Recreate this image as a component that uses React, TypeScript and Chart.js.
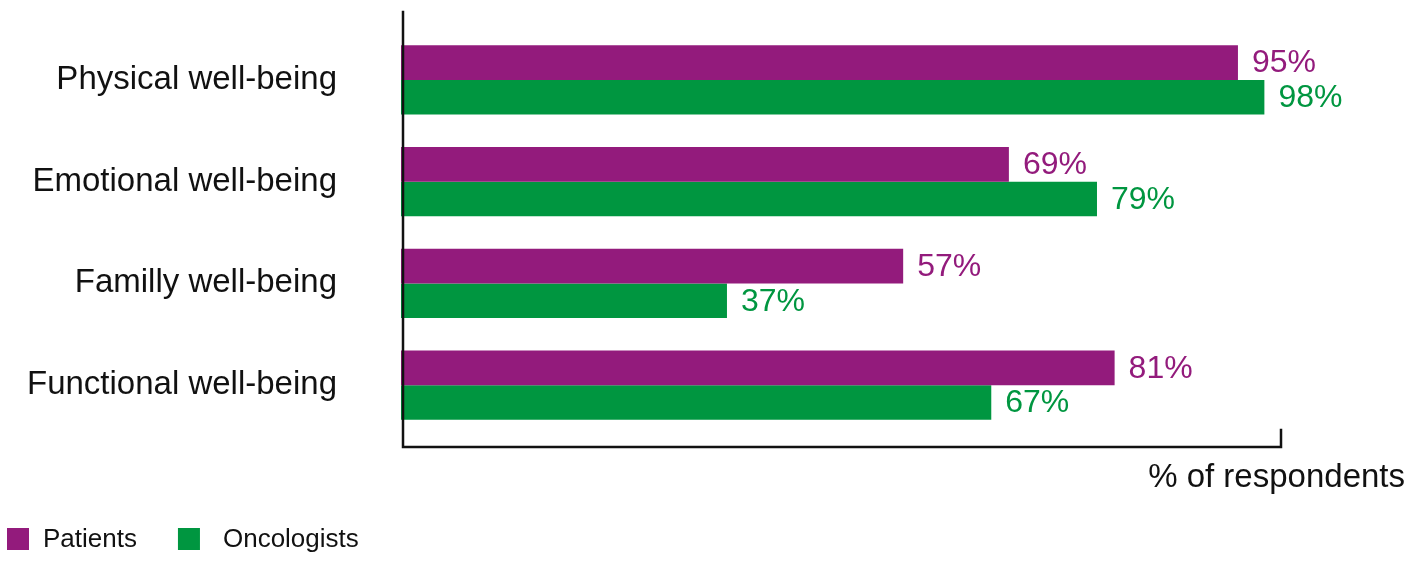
import React, { useEffect, useRef } from "react";
import { Chart, registerables } from "chart.js";

Chart.register(...registerables);

const categories = [
  "Physical well-being",
  "Emotional well-being",
  "Familly well-being",
  "Functional well-being",
];
const patients = [95, 69, 57, 81];
const oncologists = [98, 79, 37, 67];
const seriesNames = ["Patients", "Oncologists"];
const seriesColors = ["#931b7c", "#009640"];
const xAxisTitle = "% of respondents";

const FONT = "'Liberation Sans', Arial, Helvetica, sans-serif";

export default function App() {
  const ref = useRef<HTMLCanvasElement | null>(null);

  useEffect(() => {
    if (!ref.current) return;

    const decorations = {
      id: "decorations",
      afterDatasetsDraw(chart: any) {
        const { ctx, chartArea } = chart;
        const left = chartArea.left + 2;
        const right = chartArea.right - 1;
        const top = chartArea.top - 17;
        const bottom = chartArea.bottom + 11;
        ctx.save();
        // axes
        ctx.strokeStyle = "#111";
        ctx.lineWidth = 2.5;
        ctx.lineCap = "square";
        ctx.beginPath();
        ctx.moveTo(left, top);
        ctx.lineTo(left, bottom);
        ctx.lineTo(right, bottom);
        ctx.lineTo(right, bottom - 17);
        ctx.stroke();

        // value labels
        ctx.font = `32px ${FONT}`;
        ctx.textAlign = "left";
        ctx.textBaseline = "middle";
        chart.data.datasets.forEach((ds: any, di: number) => {
          const meta = chart.getDatasetMeta(di);
          meta.data.forEach((bar: any, i: number) => {
            ctx.fillStyle = ds.backgroundColor;
            ctx.fillText(`${ds.data[i]}%`, bar.x + 14, bar.y + 1);
          });
        });

        // x-axis title
        ctx.font = `33px ${FONT}`;
        ctx.fillStyle = "#111";
        ctx.textAlign = "right";
        ctx.fillText(xAxisTitle, chartArea.right + 123, bottom + 31);

        // legend
        const ly = chart.height - 25;
        const textOffsets = [36, 45];
        ctx.font = `26px ${FONT}`;
        ctx.textAlign = "left";
        let lx = 7;
        chart.data.datasets.forEach((ds: any, i: number) => {
          ctx.fillStyle = ds.backgroundColor;
          ctx.fillRect(lx, ly - 11, 22, 22);
          ctx.fillStyle = "#111";
          ctx.fillText(ds.label, lx + textOffsets[i], ly + 1);
          lx += textOffsets[i] + ctx.measureText(ds.label).width + 41;
        });
        ctx.restore();
      },
    };

    const chart = new Chart(ref.current, {
      type: "bar",
      data: {
        labels: categories,
        datasets: [
          {
            label: seriesNames[0],
            data: patients,
            backgroundColor: seriesColors[0],
            categoryPercentage: 0.68,
            barPercentage: 1,
          },
          {
            label: seriesNames[1],
            data: oncologists,
            backgroundColor: seriesColors[1],
            categoryPercentage: 0.68,
            barPercentage: 1,
          },
        ],
      },
      options: {
        indexAxis: "y",
        responsive: false,
        animation: false,
        layout: { padding: { top: 29, bottom: 128, right: 135, left: 0 } },
        plugins: {
          legend: { display: false },
          tooltip: { enabled: false },
        },
        scales: {
          x: {
            display: false,
            min: 0,
            max: 100,
          },
          y: {
            grid: { display: false, drawTicks: false },
            border: { display: false },
            ticks: {
              color: "#111",
              padding: 64,
              font: { size: 33, family: FONT },
            },
            afterFit: (s: any) => {
              s.width = 401;
              s.paddingTop = 0;
              s.paddingBottom = 0;
            },
          },
        },
      },
      plugins: [decorations],
    });
    return () => chart.destroy();
  }, []);

  return (
    <div style={{ position: "fixed", left: 0, top: 0, width: 1417, height: 564, background: "#fff" }}>
      <canvas ref={ref} width={1417} height={564} style={{ display: "block" }} />
    </div>
  );
}
